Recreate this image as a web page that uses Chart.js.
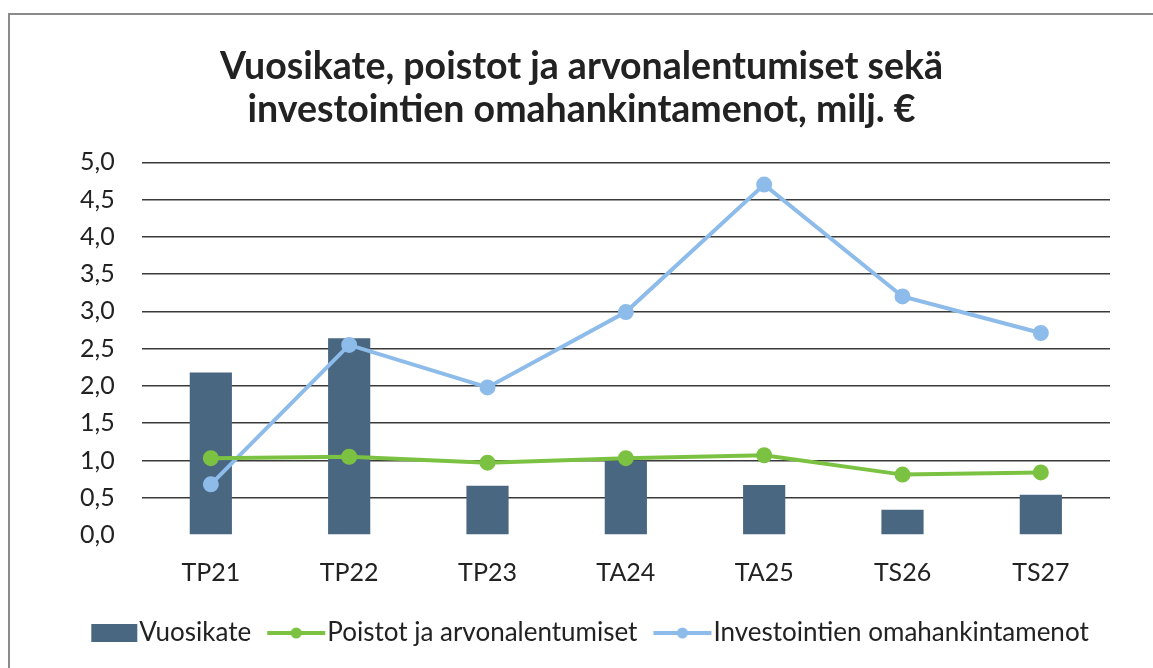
<!DOCTYPE html>
<html>
<head>
<meta charset="utf-8">
<script src="https://cdn.jsdelivr.net/npm/chart.js@4.4.1/dist/chart.umd.min.js"></script>
<style>
  html, body { margin: 0; padding: 0; background: #fff; }
  #wrap { position: relative; width: 1153px; height: 668px; }
  #frame { position: absolute; left: 8px; top: 13px; right: 0; bottom: 0;
           border-left: 2px solid #8a8a8a; border-top: 2px solid #8a8a8a; }
  canvas { position: absolute; left: 0; top: 0; }
</style>
</head>
<body>
<div id="wrap">
  <div id="frame"></div>
  <canvas id="chart" width="1153" height="668"></canvas>
</div>
<script>
const categories = ["TP21", "TP22", "TP23", "TA24", "TA25", "TS26", "TS27"];
const vuosikate = [2.18, 2.64, 0.66, 1.0, 0.67, 0.34, 0.54];
const poistot = [1.03, 1.05, 0.97, 1.03, 1.07, 0.81, 0.84];
const investoinnit = [0.68, 2.55, 1.98, 2.99, 4.70, 3.20, 2.71];
const seriesNames = ["Vuosikate", "Poistot ja arvonalentumiset", "Investointien omahankintamenot"];
const titleLines = ["Vuosikate, poistot ja arvonalentumiset sekä", "investointien omahankintamenot, milj. €"];

const BAR_COLOR = "#4a6782";
const GREEN = "#7cc242";
const BLUE = "#8dbbea";
const FONT = "Lato, 'Open Sans', sans-serif";
const LEGEND_SIZE = 26;
const ICON_BOX = 52;

// legend icons are drawn right-aligned so the text sits close to them
function iconCanvas(draw) {
  const c = document.createElement("canvas");
  c.width = ICON_BOX + LEGEND_SIZE;
  c.height = 20;
  const ctx = c.getContext("2d");
  draw(ctx, c.width - 2);
  return c;
}

function barIcon() {
  return iconCanvas((ctx, right) => {
    ctx.fillStyle = BAR_COLOR;
    ctx.fillRect(right - 46, 1, 46, 18);
  });
}

function lineIcon(color) {
  return iconCanvas((ctx, right) => {
    ctx.strokeStyle = color;
    ctx.lineWidth = 4;
    ctx.beginPath();
    ctx.moveTo(right - 58, 10);
    ctx.lineTo(right, 10);
    ctx.stroke();
    ctx.fillStyle = color;
    ctx.beginPath();
    ctx.arc(right - 29, 10, 5.5, 0, Math.PI * 2);
    ctx.fill();
  });
}

const icons = [barIcon(), lineIcon(GREEN), lineIcon(BLUE)];

new Chart(document.getElementById("chart"), {
  data: {
    labels: categories,
    datasets: [
      {
        type: "bar",
        label: seriesNames[0],
        data: vuosikate,
        backgroundColor: BAR_COLOR,
        barPercentage: 0.305,
        categoryPercentage: 1,
        order: 1
      },
      {
        type: "line",
        label: seriesNames[1],
        data: poistot,
        borderColor: GREEN,
        backgroundColor: GREEN,
        borderWidth: 4,
        pointRadius: 6,
        pointHoverRadius: 6,
        tension: 0,
        order: 0
      },
      {
        type: "line",
        label: seriesNames[2],
        data: investoinnit,
        borderColor: BLUE,
        backgroundColor: BLUE,
        borderWidth: 4,
        pointRadius: 6,
        pointHoverRadius: 6,
        tension: 0,
        order: 0
      }
    ]
  },
  options: {
    responsive: false,
    animation: false,
    layout: {
      padding: { left: 53, right: 43, top: 45, bottom: 12 }
    },
    scales: {
      x: {
        grid: { display: false },
        border: { display: false },
        ticks: {
          color: "#222",
          font: { family: FONT, size: 25 },
          padding: 15
        },
        afterFit: (scale) => {
          scale.height += 6;
        }
      },
      y: {
        min: 0,
        max: 5,
        ticks: {
          stepSize: 0.5,
          color: "#222",
          font: { family: FONT, size: 25 },
          padding: 27,
          callback: (v) => v.toFixed(1).replace(".", ",")
        },
        grid: {
          drawTicks: false,
          lineWidth: 1.5,
          color: (ctx) => (ctx.tick && ctx.tick.value === 0 ? "rgba(0,0,0,0)" : "#3a3a3a")
        },
        border: { display: false }
      }
    },
    plugins: {
      tooltip: { enabled: false },
      title: {
        display: true,
        text: titleLines,
        color: "#222",
        font: { family: FONT, size: 37.5, weight: "bold", lineHeight: 1.15 },
        padding: { top: 0, bottom: 31 }
      },
      legend: {
        position: "bottom",
        labels: {
          color: "#222",
          font: { family: FONT, size: LEGEND_SIZE },
          usePointStyle: true,
          pointStyleWidth: ICON_BOX,
          padding: 11,
          generateLabels: (chart) =>
            chart.data.datasets.map((ds, i) => ({
              text: ds.label,
              datasetIndex: i,
              pointStyle: icons[i],
              fillStyle: "rgba(0,0,0,0)",
              strokeStyle: "rgba(0,0,0,0)",
              lineWidth: 0,
              fontColor: "#222",
              hidden: false
            }))
        }
      }
    }
  }
});
</script>
</body>
</html>
